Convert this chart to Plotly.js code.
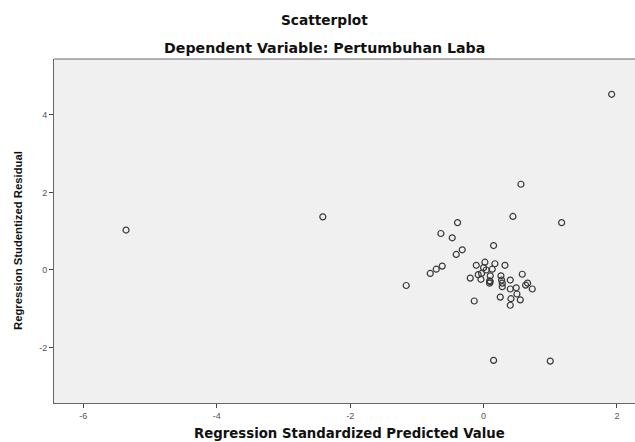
<!DOCTYPE html>
<html>
<head>
<meta charset="utf-8">
<script src="https://cdn.plot.ly/plotly-3.0.1.min.js"></script>
<style>html,body{margin:0;padding:0;background:#fff;}#chart{width:635px;height:442px;}</style>
</head>
<body>
<div id="chart"></div>
<script>
const predicted = [
  -5.36, -2.41, 1.92, 0.56, 0.44, 1.17, -0.39, 0.15, -0.64, -0.47,
  -0.32, -0.41, -0.62, -0.71, -0.80, -1.16, -0.11, 0.02, 0.17, 0.32,
  0.00, 0.04, 0.13, 0.58, -0.08, -0.20, -0.04, 0.09, 0.09, 0.26,
  0.27, 0.28, 0.28, 0.40, 0.40, 0.49, 0.50, 0.63, 0.66, 0.73,
  0.25, 0.41, 0.55, 0.40, -0.14, 0.15, 1.00, 0.10, 0.10, -0.03
];
const residual = [
  1.03, 1.37, 4.53, 2.21, 1.38, 1.22, 1.22, 0.63, 0.94, 0.83,
  0.52, 0.40, 0.10, 0.02, -0.09, -0.40, 0.12, 0.20, 0.16, 0.12,
  0.06, 0.00, 0.02, -0.11, -0.12, -0.21, -0.24, -0.28, -0.34, -0.15,
  -0.26, -0.34, -0.43, -0.26, -0.49, -0.46, -0.62, -0.39, -0.34, -0.49,
  -0.70, -0.74, -0.77, -0.91, -0.80, -2.33, -2.35, -0.15, -0.30, -0.09
];
const xTicks = [-6, -4, -2, 0, 2];
const yTicks = [-2, 0, 2, 4];
const chartTitle = "Scatterplot";
const chartSubtitle = "Dependent Variable: Pertumbuhan Laba";
const xTitle = "Regression Standardized Predicted Value";
const yTitle = "Regression Studentized Residual";

const trace = {
  x: predicted, y: residual, type: 'scatter', mode: 'markers',
  marker: {symbol: 'circle-open', size: 6, color: '#3a3a3a', line: {width: 1.2, color: '#3a3a3a'}},
  hoverinfo: 'none'
};

const tickFont = {family: 'Arial, Liberation Sans, sans-serif', size: 9, color: '#555'};
const wideFont = 'DejaVu Sans, sans-serif';
const layout = {
  width: 635, height: 442,
  margin: {l: 54, r: 0, t: 59, b: 39, pad: 0},
  paper_bgcolor: '#ffffff', plot_bgcolor: '#f0f0f0',
  showlegend: false,
  font: {family: 'Arial, Liberation Sans, sans-serif', color: '#111'},
  xaxis: {
    range: [-6.44, 2.27], tickvals: xTicks, ticktext: xTicks.map(String),
    showgrid: false, zeroline: false, showline: true, linecolor: '#666', linewidth: 1,
    ticks: 'outside', ticklen: 4, tickcolor: '#444', tickwidth: 1, tickfont: tickFont
  },
  yaxis: {
    range: [-3.43, 5.44], tickvals: yTicks, ticktext: yTicks.map(String),
    showgrid: false, zeroline: false, showline: true, linecolor: '#666', linewidth: 1,
    ticks: 'outside', ticklen: 4, tickcolor: '#444', tickwidth: 1, tickfont: tickFont
  },
  shapes: [{type: 'line', xref: 'paper', yref: 'paper', x0: 0, x1: 1, y0: 1, y1: 1, line: {color: '#666', width: 1}}],
  annotations: [
    {text: '<b>' + chartTitle + '</b>', xref: 'paper', yref: 'paper', x: 0.465, y: 1, yshift: 39, showarrow: false, xanchor: 'center', yanchor: 'middle', font: {family: wideFont, size: 13.7, color: '#111'}},
    {text: '<b>' + chartSubtitle + '</b>', xref: 'paper', yref: 'paper', x: 0.465, y: 1, yshift: 11.5, showarrow: false, xanchor: 'center', yanchor: 'middle', font: {family: wideFont, size: 14.2, color: '#111'}},
    {text: '<b>' + xTitle + '</b>', xref: 'paper', yref: 'paper', x: 0.509, y: 0, yshift: -30, showarrow: false, xanchor: 'center', yanchor: 'middle', font: {family: wideFont, size: 13.3, color: '#111'}},
    {text: '<b>' + yTitle + '</b>', xref: 'paper', yref: 'paper', x: 0, y: 0.471, xshift: -36, showarrow: false, textangle: -90, xanchor: 'center', yanchor: 'middle', font: {family: 'Arial, Liberation Sans, sans-serif', size: 11.3, color: '#111'}}
  ]
};
Plotly.newPlot('chart', [trace], layout, {displayModeBar: false, staticPlot: true});
</script>
</body>
</html>
